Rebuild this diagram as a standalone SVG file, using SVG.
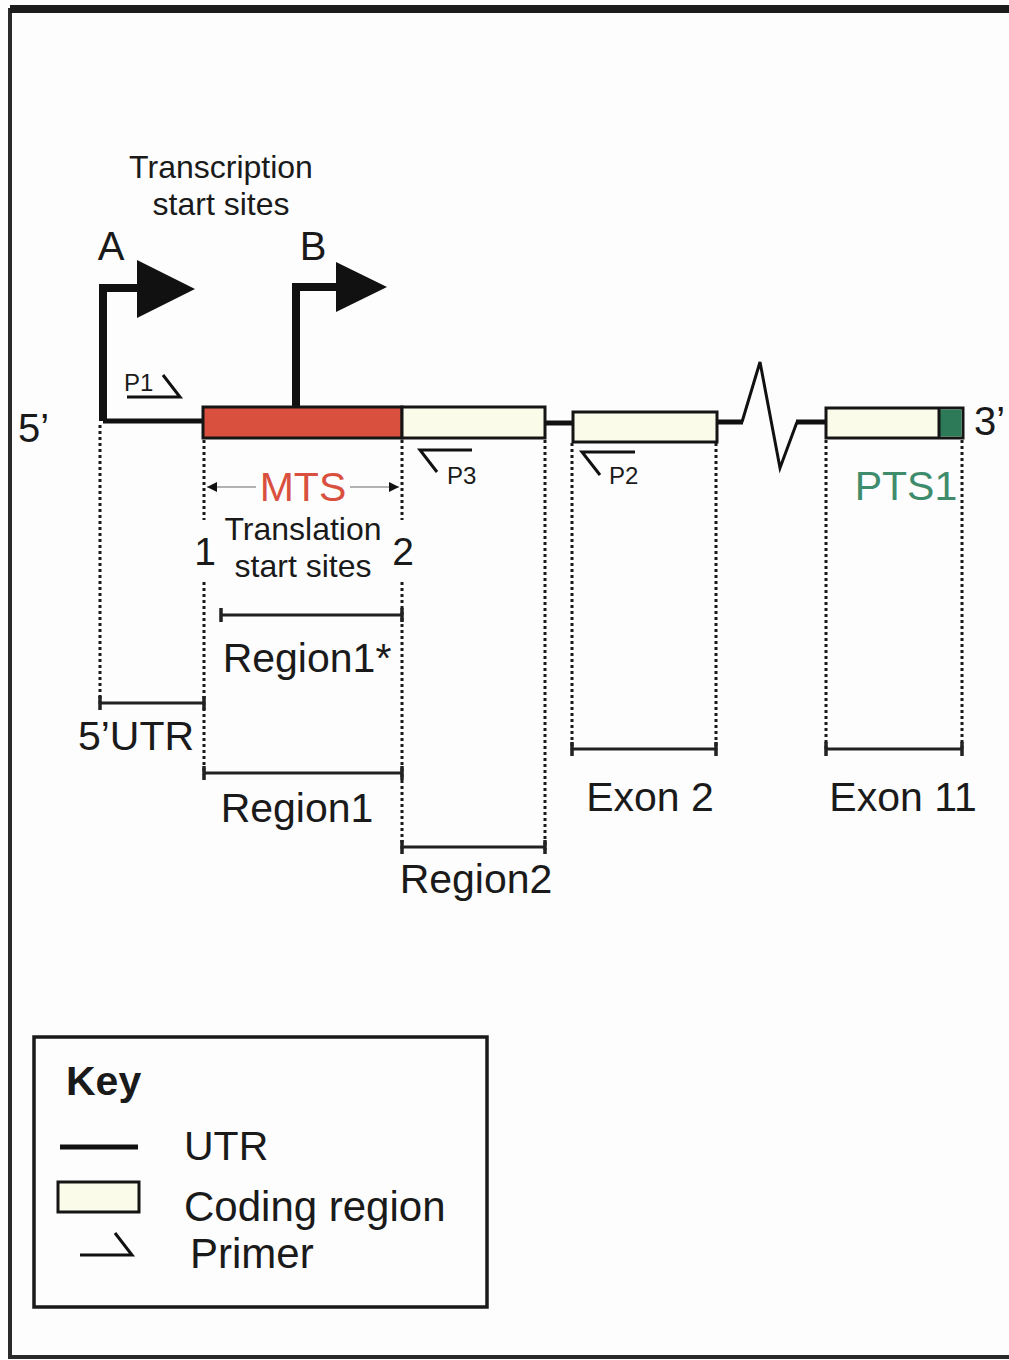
<svg xmlns="http://www.w3.org/2000/svg" width="1009" height="1360" viewBox="0 0 1009 1360">
<defs>
<style>
text{font-family:"Liberation Sans",Arial,sans-serif;fill:#1a1a1a}
.dot{stroke:#1a1a1a;stroke-width:3;stroke-dasharray:3 3;fill:none}
.bar{stroke:#222;stroke-width:3;fill:none}
.tick{stroke:#222;stroke-width:3.5}
.utr{stroke:#111;stroke-width:5;fill:none}
.box{stroke:#151515;stroke-width:3}
.cod{fill:#fbfbea}
.pr{stroke:#111;stroke-width:3;fill:none}
</style>
<marker id="ah" viewBox="0 0 10 10" refX="10" refY="5" markerWidth="10" markerHeight="10" markerUnits="userSpaceOnUse" orient="auto"><path d="M0,0 L10,5 L0,10 Z" fill="#111"/></marker>
</defs>
<rect width="1009" height="1360" fill="#fdfdfd"/>
<path d="M1012,10 H10 V1357 H1012" fill="none" stroke="#2a2a2a" stroke-width="4"/>
<line x1="10" y1="9" x2="1012" y2="9" stroke="#1c1c1c" stroke-width="8"/>

<g id="connectors">
<path class="utr" d="M103,421 H204"/>
<path class="utr" d="M545,423 H573"/>
<path d="M742,422 L760,362 L780,468 L797,422" fill="none" stroke="#111" stroke-width="3"/>
<path class="utr" d="M716,422 H743"/>
<path class="utr" d="M796,422 H826"/>
<path class="dot" d="M100,425 V704"/>
<path class="dot" d="M204,440 V520 M204,582 V775"/>
<path class="dot" d="M402,440 V520 M402,582 V850"/>
<path class="dot" d="M545,440 V850"/>
<path class="dot" d="M572,443 V750"/>
<path class="dot" d="M716,443 V750"/>
<path class="dot" d="M826,440 V750"/>
<path class="dot" d="M962,440 V750"/>
</g>

<g id="promoter-A">
<path d="M103,421 V288 H142" fill="none" stroke="#111" stroke-width="8"/>
<path d="M137,260 L195,289 L137,318 Z" fill="#111"/>
<text x="111" y="260" font-size="40" text-anchor="middle">A</text>
</g>
<g id="promoter-B">
<path d="M296,408 V287 H340" fill="none" stroke="#111" stroke-width="8"/>
<path d="M336,262 L387,287 L336,312 Z" fill="#111"/>
<text x="313" y="260" font-size="40" text-anchor="middle">B</text>
</g>
<g id="tss-label">
<text x="221" y="178" font-size="32" text-anchor="middle">Transcription</text>
<text x="221" y="215" font-size="32" text-anchor="middle">start sites</text>
</g>

<g id="mts-box"><rect class="box" x="203" y="407" width="199" height="31" fill="#d9503f"/></g>
<g id="coding1"><rect class="box cod" x="402" y="407" width="143" height="31"/></g>
<g id="exon2"><rect class="box cod" x="573" y="412" width="144" height="30"/></g>
<g id="exon11">
<rect class="box cod" x="826" y="408" width="137" height="30"/>
<rect x="939" y="409.5" width="22.5" height="27" fill="#2c7a57"/>
<line x1="939" y1="408" x2="939" y2="438" stroke="#151515" stroke-width="3"/>
</g>
<g id="ends">
<text x="18" y="442" font-size="40">5’</text>
<text x="974" y="435" font-size="40">3’</text>
</g>

<g id="primer-P1">
<text x="124" y="391" font-size="24">P1</text>
<path class="pr" d="M127,397 H180 L163,375"/>
</g>
<g id="primer-P3">
<path class="pr" d="M472,450 H420 L437,472"/>
<text x="447" y="484" font-size="24">P3</text>
</g>
<g id="primer-P2">
<path class="pr" d="M635,452 H582 L600,475"/>
<text x="609" y="484" font-size="24">P2</text>
</g>

<g id="mts-label">
<line x1="256" y1="487" x2="207" y2="487" stroke="#999" stroke-width="1.5" marker-end="url(#ah)"/>
<line x1="350" y1="487" x2="399" y2="487" stroke="#999" stroke-width="1.5" marker-end="url(#ah)"/>
<text x="303" y="501" font-size="41" text-anchor="middle" style="fill:#d9503f">MTS</text>
</g>
<g id="translation-label">
<text x="303" y="540" font-size="32" text-anchor="middle">Translation</text>
<text x="303" y="577" font-size="32" text-anchor="middle">start sites</text>
<text x="205" y="565" font-size="39" text-anchor="middle">1</text>
<text x="403" y="565" font-size="39" text-anchor="middle">2</text>
</g>
<g id="pts1-label"><text x="906" y="500" font-size="41" text-anchor="middle" style="fill:#3f8c6c">PTS1</text></g>

<g id="region1star">
<path class="bar" d="M221,615 H402"/><path class="tick" d="M221,608 V622 M402,608 V622"/>
<text x="307" y="672" font-size="41" text-anchor="middle">Region1*</text>
</g>
<g id="utr5">
<path class="bar" d="M100,703 H204"/><path class="tick" d="M100,696 V710 M204,696 V710"/>
<text x="136" y="750" font-size="41" text-anchor="middle">5’UTR</text>
</g>
<g id="region1">
<path class="bar" d="M204,773 H402"/><path class="tick" d="M204,766 V780 M402,766 V780"/>
<text x="297" y="822" font-size="41" text-anchor="middle">Region1</text>
</g>
<g id="region2">
<path class="bar" d="M402,847 H545"/><path class="tick" d="M402,840 V854 M545,840 V854"/>
<text x="476" y="893" font-size="41" text-anchor="middle">Region2</text>
</g>
<g id="exon2-bar">
<path class="bar" d="M572,749 H716"/><path class="tick" d="M572,742 V756 M716,742 V756"/>
<text x="650" y="811" font-size="41" text-anchor="middle">Exon 2</text>
</g>
<g id="exon11-bar">
<path class="bar" d="M826,749 H962"/><path class="tick" d="M826,742 V756 M962,742 V756"/>
<text x="903" y="811" font-size="41" text-anchor="middle">Exon 11</text>
</g>

<g id="key">
<rect x="34" y="1037" width="453" height="270" fill="none" stroke="#1a1a1a" stroke-width="3.5"/>
<text x="66" y="1095" font-size="41" font-weight="bold">Key</text>
<line x1="60" y1="1147" x2="138" y2="1147" stroke="#111" stroke-width="5"/>
<text x="184" y="1160" font-size="41">UTR</text>
<rect class="box cod" x="58" y="1182" width="81" height="30"/>
<text x="184" y="1221" font-size="42">Coding region</text>
<path class="pr" d="M80,1255 H132 L115,1233"/>
<text x="190" y="1268" font-size="42">Primer</text>
</g>
</svg>
